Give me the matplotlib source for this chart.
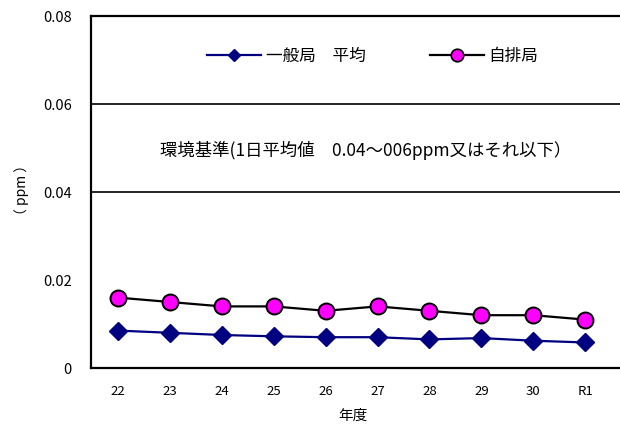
import matplotlib
matplotlib.use("Agg")
import matplotlib.pyplot as plt
from matplotlib.lines import Line2D

plt.rcParams["font.family"] = ["Noto Sans CJK JP", "DejaVu Sans"]

years = ["22", "23", "24", "25", "26", "27", "28", "29", "30", "R1"]
general_avg = [0.0085, 0.0080, 0.0075, 0.0072, 0.0070, 0.0070, 0.0065, 0.0068, 0.0062, 0.0058]
roadside = [0.016, 0.015, 0.014, 0.014, 0.013, 0.014, 0.013, 0.012, 0.012, 0.011]
yticks = [0, 0.02, 0.04, 0.06, 0.08]
ytick_labels = ["0", "0.02", "0.04", "0.06", "0.08"]

fig = plt.figure(figsize=(6.2, 4.32), dpi=100)
ax = fig.add_axes([91 / 620, 1 - 368 / 432, 1 - 91 / 620, 352 / 432])

x = list(range(len(years)))
ax.plot(x, roadside, color="black", lw=1.6, marker="o", ms=11.5,
        mfc="#FF00FF", mec="black", mew=1.4, zorder=3)
ax.plot(x, general_avg, color="#000080", lw=1.6, marker="D", ms=9,
        mfc="#000080", mec="#000080", zorder=3)

for yv in (0.04, 0.06):
    ax.axhline(yv, color="black", lw=1.2, zorder=1)

ax.set_xlim(-0.52, 9.67)
ax.set_ylim(0, 0.08)
ax.set_xticks(x)
ax.set_xticklabels(years, fontsize=9.5)
ax.set_yticks(yticks)
ax.set_yticklabels(ytick_labels, fontsize=10.5)
ax.tick_params(length=0, pad=12)
ax.tick_params(axis="y", pad=14)
for s in ("left", "bottom", "top"):
    ax.spines[s].set_linewidth(1.6)
ax.spines["right"].set_visible(False)

ax.text((160 - 91) / 529 * 10.19 - 0.52, 0.0495,
        "環境基準(1日平均値　0.04～006ppm又はそれ以下）",
        fontsize=12.5, va="center", ha="left")

fig.text(22 / 620, 1 - 190 / 432, "（ ppm ）", rotation=90, fontsize=10,
         ha="center", va="center")
fig.text(353 / 620, 1 - 416 / 432, "年度", fontsize=10.5, ha="center", va="center")

handles = [
    Line2D([], [], color="#000080", lw=1.6, marker="D", ms=6,
           mfc="#000080", mec="#000080"),
    Line2D([], [], color="black", lw=1.6, marker="o", ms=9,
           mfc="#FF00FF", mec="black", mew=1.2),
]
ax.legend(handles, ["一般局　平均", "自排局"], loc="center",
          bbox_to_anchor=(0.533, 0.884), ncol=2, frameon=False,
          fontsize=12, handlelength=3.2, columnspacing=3.9, handletextpad=0.3)

fig.savefig("out.png", dpi=100)
